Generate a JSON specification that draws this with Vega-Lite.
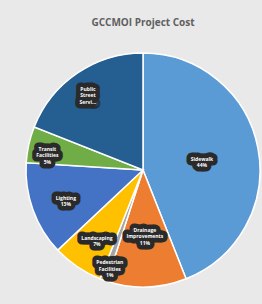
{
  "$schema": "https://vega.github.io/schema/vega-lite/v6.json",
  "autosize": {"type": "none"},
  "width": 234,
  "height": 234,
  "padding": {"left": 26, "top": 53, "right": 2, "bottom": 17},
  "background": "#e9e9e9",
  "config": {"view": {"stroke": null}},
  "title": {
    "text": "GCCMOI Project Cost",
    "font": "Open Sans",
    "fontSize": 10,
    "fontWeight": "bold",
    "color": "#606060",
    "anchor": "middle",
    "offset": 22
  },
  "data": {
    "values": [
      {"category": "Sidewalk", "value": 44, "order": 1, "label": "Sidewalk\n44%"},
      {"category": "Drainage Improvements", "value": 11, "order": 2, "label": "Drainage\nImprovements\n11%"},
      {"category": "Pedestrian Facilities", "value": 1, "order": 3, "label": "Pedestrian\nFacilities\n1%"},
      {"category": "Landscaping", "value": 7, "order": 4, "label": "Landscaping\n7%"},
      {"category": "Lighting", "value": 13, "order": 5, "label": "Lighting\n13%"},
      {"category": "Transit Facilities", "value": 5, "order": 6, "label": "Transit\nFacilities\n5%"},
      {"category": "Public Street Services", "value": 19, "order": 7, "label": "Public\nStreet\nServi..."}
    ]
  },
  "encoding": {
    "theta": {"field": "value", "type": "quantitative", "stack": true},
    "order": {"field": "order", "type": "quantitative"}
  },
  "layer": [
    {
      "mark": {"type": "arc", "stroke": "#ffffff", "strokeWidth": 1.5},
      "encoding": {
        "color": {
          "field": "category",
          "type": "nominal",
          "legend": null,
          "scale": {
            "domain": ["Sidewalk", "Drainage Improvements", "Pedestrian Facilities", "Landscaping", "Lighting", "Transit Facilities", "Public Street Services"],
            "range": ["#5b9bd5", "#ed7d31", "#a5a5a5", "#ffc000", "#4472c4", "#70ad47", "#255e91"]
          }
        }
      }
    },
    {
      "mark": {"type": "text", "radius": 60, "font": "Open Sans", "fontSize": 5, "fontWeight": "bold", "lineBreak": "\n", "lineHeight": 6.5, "fill": "#2a2a2a", "stroke": "#2a2a2a", "strokeWidth": 9, "strokeJoin": "round"},
      "encoding": {"text": {"condition": {"test": "datum.order <= 2", "field": "label"}, "value": ""}}
    },
    {
      "mark": {"type": "text", "radius": 60, "font": "Open Sans", "fontSize": 5, "fontWeight": "bold", "lineBreak": "\n", "lineHeight": 6.5, "fill": "#ffffff"},
      "encoding": {"text": {"condition": {"test": "datum.order <= 2", "field": "label"}, "value": ""}}
    },
    {
      "mark": {"type": "text", "radius": 82, "font": "Open Sans", "fontSize": 5, "fontWeight": "bold", "lineBreak": "\n", "lineHeight": 6.5, "fill": "#2a2a2a", "stroke": "#2a2a2a", "strokeWidth": 9, "strokeJoin": "round"},
      "encoding": {"text": {"condition": {"test": "datum.order == 4 || datum.order == 5", "field": "label"}, "value": ""}}
    },
    {
      "mark": {"type": "text", "radius": 82, "font": "Open Sans", "fontSize": 5, "fontWeight": "bold", "lineBreak": "\n", "lineHeight": 6.5, "fill": "#ffffff"},
      "encoding": {"text": {"condition": {"test": "datum.order == 4 || datum.order == 5", "field": "label"}, "value": ""}}
    },
    {
      "mark": {"type": "text", "radius": 98, "font": "Open Sans", "fontSize": 5, "fontWeight": "bold", "lineBreak": "\n", "lineHeight": 6.5, "fill": "#2a2a2a", "stroke": "#2a2a2a", "strokeWidth": 9, "strokeJoin": "round"},
      "encoding": {"text": {"condition": {"test": "datum.order == 3 || datum.order >= 6", "field": "label"}, "value": ""}}
    },
    {
      "mark": {"type": "text", "radius": 98, "font": "Open Sans", "fontSize": 5, "fontWeight": "bold", "lineBreak": "\n", "lineHeight": 6.5, "fill": "#ffffff"},
      "encoding": {"text": {"condition": {"test": "datum.order == 3 || datum.order >= 6", "field": "label"}, "value": ""}}
    }
  ]
}
